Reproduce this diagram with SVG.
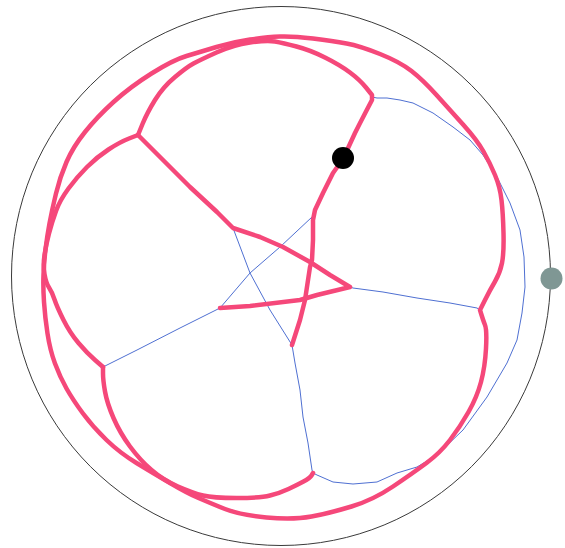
<svg xmlns="http://www.w3.org/2000/svg" width="565" height="548" viewBox="0 0 565 548">
<style>
.bound{fill:none;stroke:#3a3a3a;stroke-width:1}
.pink{fill:none;stroke:#f5487a;stroke-width:4.5;stroke-linejoin:round;stroke-linecap:round}
.blue{fill:none;stroke:#4f70d2;stroke-width:1;stroke-linejoin:round}
</style>
<rect width="565" height="548" fill="#ffffff"/>
<g id="boundary"><circle class="bound" cx="281" cy="276" r="269.5"/></g>
<g id="connectors">
<polyline class="blue" points="372,97 377,98 387,98 400,100 413,103 433,113 453,127 470,140 483,155 497,177 510,203 520,230 524,257 525,287 522,313 517,340 507,363 487,397 463,430 437,455 417,467 397,473 377,482 353,484 333,482 317,475 313,473"/>
<polyline class="blue" points="313,473 312,470 308,443 303,417 300,390 295,363 292,345 270,310 250,273 233,228"/>
<polyline class="blue" points="312,217 280,247 250,273 220,308 200,318 180,328 137,350 107,365 103,367"/>
<polyline class="blue" points="350,287 353,288 383,292 417,298 450,303 477,308 480,310"/>
<path class="pink" d="M480,310 L485,300 Q490,290 495,281.5 Q500,273 502,263 Q504,253 503.5,233 Q503,213 501.5,200 Q500,187 495,175 Q490,163 483.5,151.5 Q477,140 463.5,125 Q450,110 436.5,95 Q423,80 411.5,71 Q400,62 380,54 Q360,46 346.5,43.5 Q333,41 313,38.5 Q293,36 280,36.5 Q267,37 250,39.5 Q233,42 216.5,47 Q200,52 186.5,56 Q173,60 151.5,73.5 Q130,87 113.5,102 Q97,117 85,132 Q73,147 66.5,162 Q60,177 56,193.5 Q52,210 49.5,223.5 Q47,237 45.5,249.5 Q44,262 43.5,274.5 Q43,287 44,302 Q45,317 47.5,333.5 Q50,350 55,363.5 Q60,377 66.5,388.5 Q73,400 83,413.5 Q93,427 106.5,440 Q120,453 136.5,463 Q153,473 170,483 Q187,493 198.5,498 Q210,503 225,509 Q240,515 266.5,517.5 Q293,520 311.5,516.5 Q330,513 351.5,506.5 Q373,500 393,486.5 Q413,473 426.5,463 Q440,453 450,440 Q460,427 468.5,412 Q477,397 481,382 Q485,367 486,348.5 Q487,330 485,325 Q483,320 480,310 Z"/>
<path class="pink" d="M138,135 L129,138.5 Q120,142 108.5,149.5 Q97,157 87,167 Q77,177 68.5,188.5 Q60,200 56,211 Q52,222 49,233.5 Q46,245 44.5,255 Q43,265 44.5,274 Q46,283 49,287.5 Q52,292 54.5,299.5 Q57,307 63.5,320 Q70,333 78.5,343 Q87,353 95,360 L103,367"/>
<path class="pink" d="M103,367 L103,373.5 Q103,380 105,391.5 Q107,403 113.5,418 Q120,433 130,446.5 Q140,460 151.5,470 Q163,480 178,486.5 Q193,493 203,495.5 Q213,498 236.5,498 Q260,498 270,495.5 Q280,493 288.5,489 Q297,485 303.5,481.5 Q310,478 311.5,475.5 L313,473"/>
<path class="pink" d="M138,135 L142.5,124 Q147,113 155,100 Q163,87 175,77 Q187,67 193.5,63.5 Q200,60 216.5,52.5 Q233,45 250,42.5 Q267,40 275,41.5 Q283,43 296.5,46.5 Q310,50 325,57.5 Q340,65 350,72.5 Q360,80 366,87.5 L372,95 L372,100 L366,111.5 Q360,123 355,133 L343,159 L333,173 L323,193 L315,210 L313,220 L313,240 L312,260 L310,267 L305,300 L300,320 L292,345"/>
<polyline class="pink" points="138,135 163,160 190,187 217,212 233,228 260,237 283,247 310,262 330,275 350,287 317,295 300,300 250,306 220,308"/>
</g>
<g id="black-dot"><circle cx="343" cy="158" r="11" fill="#000000"/></g>
<g id="grey-dot"><circle cx="551.5" cy="278.5" r="11" fill="#7f9794"/></g>
</svg>
